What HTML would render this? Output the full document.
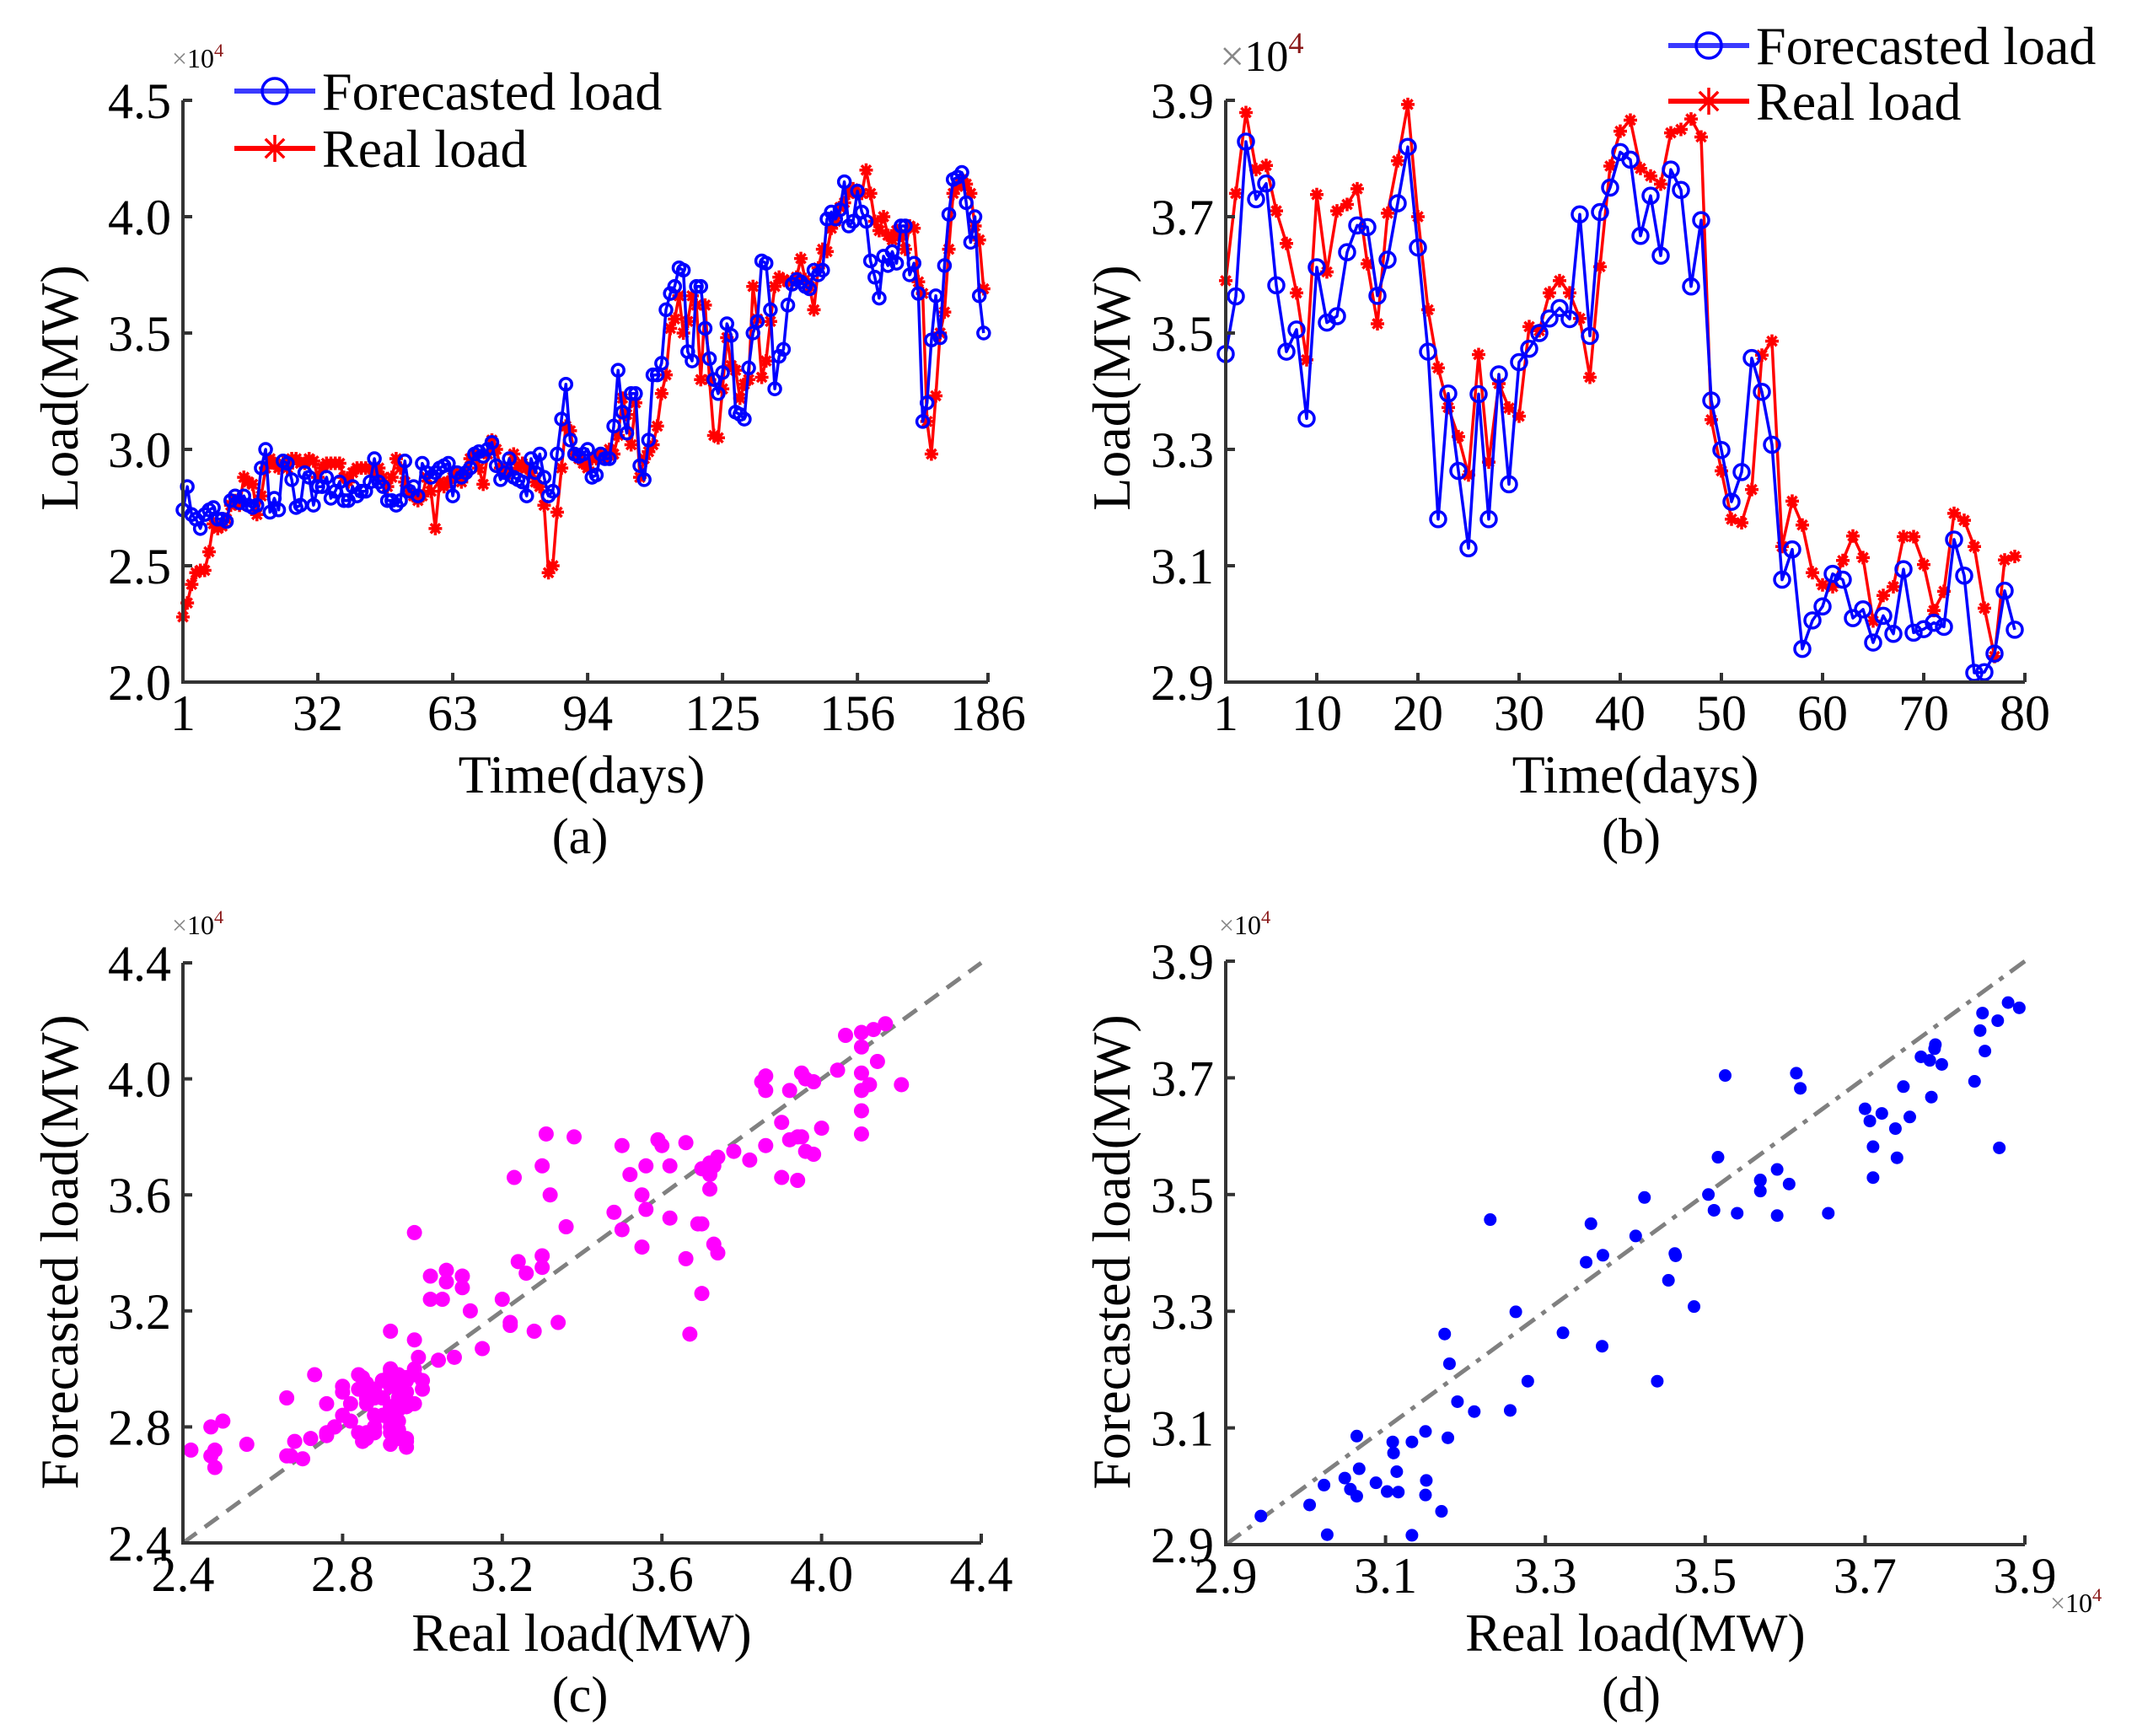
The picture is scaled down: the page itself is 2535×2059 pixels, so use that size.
<!DOCTYPE html>
<html><head><meta charset="utf-8"><style>
html,body{margin:0;padding:0;background:#fff}
svg{display:block}
text{font-family:"Liberation Serif",serif;fill:#000}
</style></head><body>
<svg id="fig" width="2535" height="2059" viewBox="0 0 2535 2059" xmlns="http://www.w3.org/2000/svg"></svg>
<script>
// ---- Panel (a) data: 186-day series (x10^4 MW) ----
const forecastA = [2.74,2.84,2.72,2.70,2.66,2.72,2.74,2.75,2.70,2.70,
2.69,2.78,2.80,2.77,2.80,2.76,2.75,2.76,2.92,3.00,
2.73,2.79,2.74,2.95,2.94,2.87,2.75,2.76,2.90,2.88,
2.76,2.84,2.84,2.88,2.79,2.82,2.86,2.78,2.78,2.84,
2.80,2.82,2.82,2.86,2.96,2.86,2.84,2.78,2.78,2.76,
2.78,2.95,2.82,2.84,2.80,2.94,2.90,2.88,2.90,2.92,
2.93,2.94,2.80,2.90,2.88,2.90,2.92,2.98,2.99,2.97,
3.00,3.03,2.93,2.87,2.90,2.96,2.88,2.87,2.86,2.80,
2.96,2.90,2.98,2.88,2.80,2.82,2.98,3.13,3.28,3.04,
2.98,2.97,2.98,3.00,2.88,2.89,2.98,2.96,2.96,3.10,
3.34,3.16,3.07,3.24,3.24,2.93,2.87,3.04,3.32,3.32,
3.37,3.60,3.67,3.70,3.78,3.77,3.42,3.38,3.70,3.70,
3.52,3.39,3.30,3.24,3.33,3.54,3.49,3.16,3.15,3.13,
3.35,3.50,3.55,3.81,3.80,3.60,3.26,3.40,3.43,3.62,
3.71,3.73,3.72,3.70,3.69,3.77,3.75,3.77,3.99,4.02,
3.99,4.03,4.15,3.96,3.98,4.11,4.02,3.98,3.81,3.74,
3.65,3.83,3.79,3.85,3.80,3.96,3.96,3.75,3.80,3.67,
3.12,3.20,3.47,3.66,3.48,3.79,4.01,4.16,4.17,4.19,
4.06,3.89,4.00,3.66,3.50];
const realA = [2.28,2.34,2.42,2.47,2.48,2.48,2.56,2.68,2.66,2.67,
2.70,2.76,2.78,2.76,2.88,2.86,2.85,2.72,2.80,2.92,
2.96,2.94,2.92,2.94,2.92,2.96,2.96,2.94,2.94,2.96,
2.95,2.88,2.92,2.94,2.94,2.94,2.94,2.88,2.86,2.90,
2.92,2.92,2.92,2.92,2.90,2.92,2.88,2.84,2.88,2.96,
2.92,2.86,2.82,2.80,2.78,2.80,2.88,2.82,2.66,2.86,
2.84,2.86,2.88,2.90,2.86,2.90,2.96,2.98,2.92,2.85,
2.98,3.04,3.00,2.92,2.90,2.90,2.98,2.92,2.94,2.92,
2.90,2.86,2.84,2.76,2.47,2.50,2.73,2.92,3.10,3.08,
2.98,2.96,2.94,2.92,2.96,2.96,2.98,2.96,3.00,2.98,
3.06,3.22,3.15,3.02,3.20,2.88,2.96,2.99,3.02,3.10,
3.24,3.32,3.52,3.56,3.66,3.50,3.55,3.66,3.62,3.30,
3.62,3.30,3.06,3.05,3.26,3.48,3.36,3.34,3.22,3.28,
3.30,3.70,3.56,3.31,3.38,3.55,3.70,3.74,3.73,3.72,
3.72,3.74,3.82,3.73,3.70,3.60,3.78,3.86,3.85,3.95,
3.98,4.04,4.06,4.10,4.12,4.10,4.10,4.20,4.10,3.98,
3.94,4.00,3.92,3.90,3.94,3.92,3.86,3.96,3.95,3.72,
3.67,3.12,2.98,3.23,3.50,3.59,3.86,4.10,4.13,4.16,
4.14,4.10,3.96,3.90,3.69];
const xTicksA = [1,32,63,94,125,156,186];
const yTicksA = [2.0,2.5,3.0,3.5,4.0,4.5];

// ---- Panel (b) data: 79-day series ----
const forecastB = [3.464,3.563,3.829,3.730,3.757,3.582,3.468,3.506,3.353,3.613,
3.518,3.529,3.639,3.685,3.682,3.564,3.626,3.723,3.820,3.647,
3.468,3.180,3.396,3.263,3.130,3.395,3.180,3.429,3.240,3.450,
3.473,3.500,3.525,3.543,3.524,3.704,3.495,3.708,3.750,3.811,
3.798,3.667,3.736,3.633,3.781,3.746,3.580,3.694,3.384,3.299,
3.210,3.261,3.457,3.399,3.308,3.076,3.128,2.957,3.006,3.030,
3.086,3.076,3.010,3.025,2.968,3.014,2.983,3.094,2.985,2.991,
3.002,2.995,3.145,3.083,2.916,2.917,2.949,3.057,2.990];
const realB = [3.590,3.740,3.879,3.781,3.788,3.710,3.654,3.569,3.454,3.738,
3.605,3.710,3.721,3.748,3.619,3.516,3.706,3.796,3.893,3.700,
3.540,3.440,3.372,3.322,3.256,3.463,3.278,3.413,3.371,3.357,
3.511,3.504,3.569,3.590,3.569,3.525,3.424,3.614,3.787,3.847,
3.866,3.783,3.770,3.756,3.844,3.850,3.868,3.837,3.351,3.263,
3.180,3.174,3.231,3.462,3.486,3.133,3.211,3.170,3.088,3.067,
3.064,3.109,3.151,3.114,3.005,3.049,3.064,3.150,3.150,3.102,
3.023,3.056,3.190,3.178,3.133,3.027,2.944,3.110,3.116];
const xTicksB = [1,10,20,30,40,50,60,70,80];
const yTicksB = [2.9,3.1,3.3,3.5,3.7,3.9];

// ---- Panel (c)/(d) scatter: real vs forecasted (same data as a/b) ----
const ticksC = [2.4,2.8,3.2,3.6,4.0,4.4];
const ticksD = [2.9,3.1,3.3,3.5,3.7,3.9];

const NS='http://www.w3.org/2000/svg';
const svg=document.getElementById('fig');
function mk(tag,attrs,parent){const e=document.createElementNS(NS,tag);for(const k in attrs)e.setAttribute(k,attrs[k]);(parent||svg).appendChild(e);return e;}
function lin(d0,d1,r0,r1){return v=>r0+(v-d0)*(r1-r0)/(d1-d0);}
function fmt(v,dec){return v.toFixed(dec);}

function axes(g,L,R,T,B,xs,ys,xt,yt,xdec,ydec){
  const ax=mk('path',{d:`M${L},${T}L${L},${B}L${R},${B}`,fill:'none',stroke:'#333',"stroke-width":4},g);
  
  
  xt.forEach(v=>{const x=xs(v);
    const t=mk('line',{x1:x,y1:B,x2:x,y2:B-11,stroke:'#333',"stroke-width":4},g);
    
    
    const l=mk('text',{x:x,y:B+57,"font-size":60,"text-anchor":"middle"},g);l.textContent=fmt(v,xdec);
    
    
  });
  yt.forEach(v=>{const y=ys(v);
    const t=mk('line',{x1:L,y1:y,x2:L+11,y2:y,stroke:'#333',"stroke-width":4},g);
    
    
    const l=mk('text',{x:L-14,y:y+21,"font-size":60,"text-anchor":"end"},g);l.textContent=fmt(v,ydec);
    
    
  });
}
function label(g,txt,x,y,size,rot,name){
  const t=mk('text',{x:x,y:y,"font-size":size,"text-anchor":"middle"},g);
  if(rot)t.setAttribute('transform',`rotate(-90 ${x} ${y})`);
  t.textContent=txt;
  
  
}
function exp(g,x,y,size,name){
  const t=mk('text',{x:x,y:y,"font-size":size},g);
  const a=mk('tspan',{fill:'#888'},t);a.textContent='×';
  const b=mk('tspan',{},t);b.textContent='10';
  const c=mk('tspan',{dy:-size*0.4,"font-size":size*0.7,fill:'#8b1a1a'},t);c.textContent='4';
  
  
}
function star(g,x,y,s){
  const p=mk('path',{d:`M${x-s},${y}L${x+s},${y}M${x},${y-s}L${x},${y+s}M${x-s*0.7},${y-s*0.7}L${x+s*0.7},${y+s*0.7}M${x-s*0.7},${y+s*0.7}L${x+s*0.7},${y-s*0.7}`,stroke:'#ff0000',"stroke-width":3.5,fill:'none'},g);
  
  
}
function circ(g,x,y,r){
  const c=mk('circle',{cx:x,cy:y,r:r,fill:'none',stroke:'#0000ff',"stroke-width":3.5},g);
  
  
}
function lineSeries(g,xs,ys,vals,color,name){
  const d=vals.map((v,i)=>(i?'L':'M')+xs(i+1).toFixed(1)+','+ys(v).toFixed(1)).join('');
  const p=mk('path',{d:d,fill:'none',stroke:color,"stroke-width":3.5,"stroke-linejoin":"round"},g);
  
  
}
function legend(g,x,y1,y2){
  const l1=mk('line',{x1:x,y1:y1,x2:x+96,y2:y1,stroke:'#3a3aff',"stroke-width":6},g);
  
  
  circ(g,x+48,y1,15);
  const t1=mk('text',{x:x+104,y:y1+22,"font-size":64},g);t1.textContent='Forecasted load';
  
  
  const l2=mk('line',{x1:x,y1:y2,x2:x+96,y2:y2,stroke:'#ff0000',"stroke-width":6},g);
  
  
  star(g,x+48,y2,16);
  const t2=mk('text',{x:x+104,y:y2+22,"font-size":64},g);t2.textContent='Real load';
  
  
}

// Panel (a)
(function(){
  const g=mk('g',{});
  const L=217,R=1172,T=119,B=809;
  const xs=lin(1,186,L,R), ys=lin(2.0,4.5,B,T);
  lineSeries(g,xs,ys,realA,'#ff0000','real-load-line');
  realA.forEach((v,i)=>star(g,xs(i+1),ys(v),8));
  lineSeries(g,xs,ys,forecastA,'#0000ff','forecast-load-line');
  forecastA.forEach((v,i)=>circ(g,xs(i+1),ys(v),7));
  axes(g,L,R,T,B,xs,ys,xTicksA,yTicksA,0,1);
  legend(g,278,108,176);
  exp(g,204,80,32,'y-exponent');
  label(g,'Time(days)',690,940,64,false,'x-axis-title');
  label(g,'Load(MW)',92,460,64,true,'y-axis-title');
  label(g,'(a)',688,1012,60,false,'panel-label-a');
})();
// Panel (b)
(function(){
  const g=mk('g',{});
  const L=1454,R=2402,T=119,B=809;
  const xs=lin(1,80,L,R), ys=lin(2.9,3.9,B,T);
  lineSeries(g,xs,ys,realB,'#ff0000','real-load-line');
  realB.forEach((v,i)=>star(g,xs(i+1),ys(v),8));
  lineSeries(g,xs,ys,forecastB,'#0000ff','forecast-load-line');
  forecastB.forEach((v,i)=>circ(g,xs(i+1),ys(v),9));
  axes(g,L,R,T,B,xs,ys,xTicksB,yTicksB,0,1);
  legend(g,1979,54,120);
  exp(g,1447,84,52,'y-exponent');
  label(g,'Time(days)',1940,940,64,false,'x-axis-title');
  label(g,'Load(MW)',1340,460,64,true,'y-axis-title');
  label(g,'(b)',1935,1012,60,false,'panel-label-b');
})();
// Panel (c)
(function(){
  const g=mk('g',{});
  const L=217,R=1164,T=1142,B=1830;
  const xs=lin(2.4,4.4,L,R), ys=lin(2.4,4.4,B,T);
  const cp=mk('clipPath',{id:'clipC'},g);mk('rect',{x:L,y:T-20,width:R-L+20,height:B-T+20},cp);
  const dl=mk('line',{x1:xs(2.4),y1:ys(2.4),x2:xs(4.4),y2:ys(4.4),stroke:'#808080',"stroke-width":5,"stroke-dasharray":"20 12"},g);
  
  const pg=mk('g',{"clip-path":"url(#clipC)"},g);
  realA.forEach((v,i)=>{const c=mk('circle',{cx:xs(v),cy:ys(forecastA[i]),r:9,fill:'#ff00ff'},pg);
    
    });
  axes(g,L,R,T,B,xs,ys,ticksC,ticksC,1,1);
  exp(g,204,1108,32,'y-exponent');
  label(g,'Real load(MW)',690,1958,64,false,'x-axis-title');
  label(g,'Forecasted load(MW)',92,1485,64,true,'y-axis-title');
  label(g,'(c)',688,2030,60,false,'panel-label-c');
})();
// Panel (d)
(function(){
  const g=mk('g',{});
  const L=1454,R=2402,T=1140,B=1832;
  const xs=lin(2.9,3.9,L,R), ys=lin(2.9,3.9,B,T);
  const dl=mk('line',{x1:xs(2.9),y1:ys(2.9),x2:xs(3.9),y2:ys(3.9),stroke:'#808080',"stroke-width":5,"stroke-dasharray":"22 10 6 10"},g);
  
  realB.forEach((v,i)=>{const c=mk('circle',{cx:xs(v),cy:ys(forecastB[i]),r:7.5,fill:'#0000ff'},g);
    
    });
  axes(g,L,R,T,B,xs,ys,ticksD,ticksD,1,1);
  exp(g,1446,1108,32,'y-exponent');
  exp(g,2432,1912,32,'x-exponent');
  label(g,'Real load(MW)',1940,1958,64,false,'x-axis-title');
  label(g,'Forecasted load(MW)',1340,1485,64,true,'y-axis-title');
  label(g,'(d)',1935,2030,60,false,'panel-label-d');
})();
</script>
</body></html>
